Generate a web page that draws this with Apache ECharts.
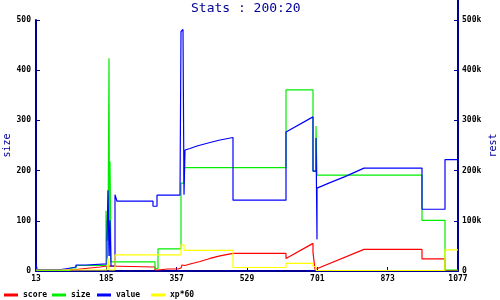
<!DOCTYPE html>
<html><head><meta charset="utf-8">
<script src="https://cdn.jsdelivr.net/npm/echarts@6/dist/echarts.min.js"></script>
<style>html,body{margin:0;padding:0;background:#fff}#c{width:500px;height:300px}</style>
</head><body><div id="c"></div>
<script>
// x positions are sample indices along the evenly spaced category ticks
const xTickLabels = ['13','185','357','529','701','873','1077'];
const xMax = 422;

const scoreData = [[0,1],[24,1],[24,3],[40,3],[40,6],[54,6],[54,8],[64,8],[64,10],[71,10],[71,8],[119,8],[119,2],[122,2],[122,4],[132,4],[132,6],[134,6],[134,4],[142,4],[142,6],[145,6],[146,12],[149,11],[154,14],[164,19],[174,25],[184,30],[197,35],[250,35],[250,25],[277,55],[277,37],[279,37],[279,3],[281,2],[328,43],[386,43],[386,24],[409,24],[409,1],[422,1]];

const sizeData = [[0,1],[34,1],[34,6],[40,6],[40,11],[70,11],[70,120],[71,120],[71,60],[72,60],[72,66],[73,66],[73,424],[73.5,424],[73.5,30],[74,30],[74,218],[75,218],[75,18],[119,18],[119,5],[122,5],[122,44],[145,44],[145,175],[148,175],[148,206],[250,206],[250,361],[277,361],[277,199],[280,199],[280,289],[281,289],[281,191],[386,191],[386,101],[409,101],[409,2],[422,2]];

const valueData = [[0,0],[0,16000],[1,16000],[1,3000],[25,3000],[25,6000],[35,6000],[35,8000],[40,8000],[40,12000],[50,12000],[50,14000],[71,14000],[71,66000],[72,66000],[72,161000],[73,161000],[73,30000],[74,30000],[74,101000],[75,101000],[75,10000],[79,10000],[79,152000],[81,152000],[81,139000],[117,139000],[117,129000],[121,129000],[121,151000],[129,151000],[129,153000],[131,153000],[131,151000],[144,151000],[144,154000],[145,154000],[145,477000],[147,477000],[147,481000],[148,481000],[148,152000],[149,152000],[149,241000],[154,244000],[161,249000],[174,256000],[184,261000],[197,266000],[197,141000],[250,141000],[250,277000],[277,307000],[277,199000],[280,199000],[280,265000],[281,265000],[281,63000],[281,165000],[294,176000],[309,188000],[328,205000],[386,205000],[386,123000],[409,123000],[409,222000],[422,222000]];

const xpData = [[0,2],[71,2],[71,4],[72,4],[72,26],[73,26],[73,2],[79,2],[79,32],[145,32],[145,52],[148,52],[148,41],[197,41],[197,7],[250,7],[250,15],[277,15],[277,9],[280,9],[280,1],[409,1],[409,42],[422,42]];

const NAVY = '#000096';
const MONO = 'DejaVu Sans Mono';
const lbl = {color:'#000', fontFamily:MONO, fontSize:8, fontWeight:'bold'};

const chart = echarts.init(document.getElementById('c'), null, {renderer:'canvas'});
function mkLegend(name, left){
  return {data:[name], left:left, top:290, padding:0, icon:'rect', itemWidth:14, itemHeight:3,
    itemGap:0, textStyle:{color:'#000', fontFamily:MONO, fontSize:8, fontWeight:'bold', lineHeight:10}};
}
function line(name, data, color, yi){
  return {name:name, type:'line', data:data, yAxisIndex:yi, showSymbol:false, symbol:'none',
    lineStyle:{color:color, width:1.2}, itemStyle:{color:color}, animation:false, z:2};
}
chart.setOption({
  animation:false,
  title:{text:'Stats : 200:20', left:191, top:0, padding:[2,0,0,0],
    textStyle:{color:NAVY, fontFamily:MONO, fontSize:13, fontWeight:'normal'}},
  legend:[mkLegend('score',4), mkLegend('size',52), mkLegend('value',97), mkLegend('xp*60',151)],
  grid:{left:36, right:42, top:20, bottom:29, containLabel:false, outerBoundsMode:'none'},
  xAxis:{type:'value', min:0, max:xMax, interval:xMax/6,
    axisLine:{lineStyle:{color:NAVY, width:2}},
    axisTick:{inside:true, length:4, lineStyle:{color:NAVY}},
    splitLine:{show:false},
    axisLabel:Object.assign({margin:4, formatter:function(v){return xTickLabels[Math.round(v/(xMax/6))]||'';}}, lbl)},
  yAxis:[
    {type:'value', min:0, max:500, interval:100, name:'size', nameLocation:'middle', nameGap:24, nameMoveOverlap:false,
     nameTextStyle:{color:NAVY, fontFamily:MONO, fontSize:10},
     axisLine:{show:true, lineStyle:{color:NAVY, width:2}},
     axisTick:{show:true, inside:true, length:4, lineStyle:{color:NAVY}},
     splitLine:{show:false}, axisLabel:Object.assign({margin:5}, lbl)},
    {type:'value', min:0, max:500000, interval:100000, position:'right', name:'rest', nameLocation:'middle', nameGap:30, nameMoveOverlap:false,
     nameTextStyle:{color:NAVY, fontFamily:MONO, fontSize:10},
     axisLine:{show:true, lineStyle:{color:NAVY, width:2}},
     axisTick:{show:true, inside:true, length:4, lineStyle:{color:NAVY}},
     splitLine:{show:false},
     axisLabel:Object.assign({margin:4, formatter:function(v){return v===0?'0':(v/1000)+'k';}}, lbl)}
  ],
  graphic:[{type:'line', shape:{x1:458, y1:0, x2:458, y2:20}, style:{stroke:NAVY, lineWidth:2}}],
  series:[
    line('score', scoreData, '#ff0000', 0),
    line('size', sizeData, '#00ee00', 0),
    line('value', valueData, '#0000ff', 1),
    line('xp*60', xpData, '#ffff00', 0)
  ]
});
</script></body></html>
